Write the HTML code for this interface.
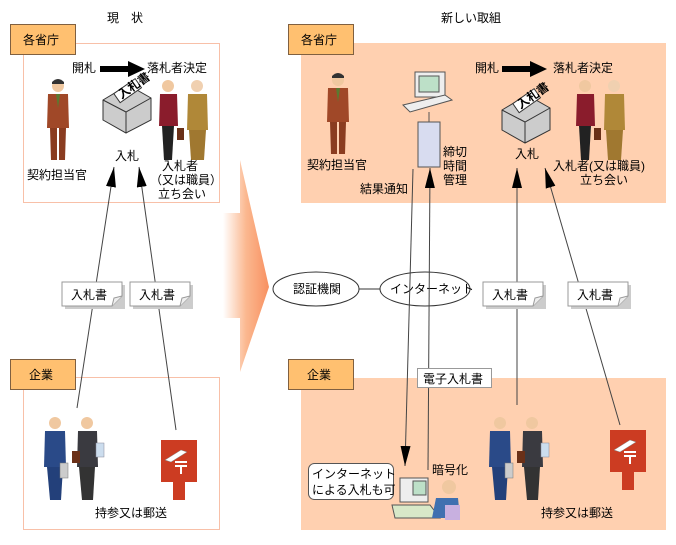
<!DOCTYPE html>
<html><head><meta charset="utf-8"><style>
body{margin:0;width:676px;height:540px;background:#fff;overflow:hidden}
svg text{font-family:"Liberation Sans","Noto Sans CJK JP",sans-serif;font-size:12px;fill:#000}
</style></head><body>
<svg width="676" height="540" viewBox="0 0 676 540" xmlns="http://www.w3.org/2000/svg">
<defs>
<linearGradient id="g" x1="0" x2="1" y1="0" y2="0"><stop offset="0" stop-color="#fff"/><stop offset="0.5" stop-color="#fbb890"/><stop offset="1" stop-color="#f89060"/></linearGradient>
<marker id="ah" viewBox="0 0 20 10" refX="20" refY="5" markerWidth="20" markerHeight="10" orient="auto" markerUnits="userSpaceOnUse"><path d="M0,0 L20,5 L0,10 Z" fill="#000"/></marker>
<g id="man"><circle cx="13" cy="8" r="6" fill="#f0c8a0"/><path d="M7,4 Q13,-2 19,4 L19,6 L7,6Z" fill="#333"/><path d="M3,16 L23,16 L24,50 L2,50Z" fill="#a04828"/><path d="M5,50 L12,50 L12,82 L6,82Z M14,50 L21,50 L20,82 L14,82Z" fill="#8a3c20"/><path d="M11,16 L15,16 L13,30Z" fill="#5a7a30"/></g>
<g id="pair"><circle cx="13" cy="8" r="6" fill="#f0c8a0"/><path d="M5,16 L22,16 L23,48 L4,48Z" fill="#8a1c2c"/><path d="M7,48 L19,48 L17,82 L9,82Z" fill="#222"/><circle cx="42" cy="8" r="6" fill="#f0d0b0"/><path d="M33,16 L52,16 L53,52 L32,52Z" fill="#b08838"/><path d="M34,52 L51,52 L49,82 L36,82Z" fill="#a07830"/><rect x="22" y="50" width="7" height="12" fill="#6a3018"/></g>
<g id="walk"><circle cx="13" cy="8" r="6" fill="#f0c8a0"/><path d="M3,16 L23,16 L24,52 L2,52Z" fill="#2a4a88"/><path d="M5,52 L21,52 L19,85 L8,85Z" fill="#23407a"/><rect x="18" y="48" width="8" height="15" fill="#ccc" stroke="#777" stroke-width=".5"/><circle cx="45" cy="8" r="6" fill="#f0c8a0"/><path d="M36,16 L55,16 L56,52 L35,52Z" fill="#3a3a40"/><path d="M37,52 L53,52 L51,85 L40,85Z" fill="#333"/><rect x="54" y="28" width="8" height="14" fill="#cde" stroke="#889" stroke-width=".5"/><rect x="30" y="36" width="8" height="12" fill="#6a3018"/></g>
<g id="post"><rect x="0" y="0" width="36" height="42" fill="#cc3c22"/><rect x="12" y="42" width="12" height="18" fill="#cc3c22"/><path d="M4,20 L20,10 L26,12 L10,22Z" fill="#fff" stroke="#888" stroke-width=".5"/><path d="M14,22 L26,22 M14,26 L26,26 M20,26 L20,34" stroke="#fff" stroke-width="2"/></g>
<g id="box"><path d="M0,15 L25,0 L48,13 L48,35 L23,48 L0,35Z" fill="#ccc" stroke="#333" stroke-width="1"/><path d="M0,15 L23,27 L48,13 M23,27 L23,48" fill="none" stroke="#333"/><g transform="translate(16,16) rotate(-35)"><rect x="0" y="-9" width="26" height="11" fill="#fff" stroke="#333"/><text x="3" y="0" font-size="8" font-weight="bold">入札書</text></g></g>
<g id="doc"><rect x="3" y="3" width="60" height="24" fill="#ccc"/><path d="M0,0 H60 V14 L50,24 H0Z" fill="#fff" stroke="#999"/><path d="M50,24 L52,16 L60,14" fill="#eee" stroke="#999"/><text x="9" y="17">入札書</text></g>
<g id="fatarrow"><path d="M0,5 H28 V0 L45,8 L28,16 V11 H0Z" fill="#000"/></g>
</defs>

<text x="107" y="22">現　状</text>
<text x="441" y="22">新しい取組</text>

<rect x="23.5" y="43.5" width="196" height="159" fill="#fff" stroke="#f8c0a8"/>
<rect x="23.5" y="377.5" width="196" height="152" fill="#fff" stroke="#f8c0a8"/>
<rect x="10.5" y="24.5" width="65" height="30" fill="#ffc070" stroke="#806040"/>
<text x="23" y="44" font-size="13">各省庁</text>
<rect x="10.5" y="359.5" width="65" height="30" fill="#ffc070" stroke="#806040"/>
<text x="29" y="379" font-size="13">企業</text>

<rect x="301" y="43" width="365" height="160" fill="#ffd0b0"/>
<rect x="301" y="378" width="365" height="152" fill="#ffd0b0"/>
<rect x="288.5" y="24.5" width="65" height="30" fill="#ffc070" stroke="#806040"/>
<text x="301" y="44" font-size="13">各省庁</text>
<rect x="288.5" y="359.5" width="65" height="30" fill="#ffc070" stroke="#806040"/>
<text x="307" y="379" font-size="13">企業</text>

<path d="M223,213 H240 V160 L269,287 L240,372 V318 H223Z" fill="url(#g)"/>

<text x="72" y="72">開札</text>
<use href="#fatarrow" x="100" y="61"/>
<text x="147" y="72">落札者決定</text>
<use href="#man" x="45" y="78"/>
<text x="27" y="179">契約担当官</text>
<use href="#box" x="103" y="85"/>
<text x="115" y="160">入札</text>
<use href="#pair" x="155" y="78"/>
<text x="162" y="170">入札者</text>
<text x="150" y="184">（又は職員）</text>
<text x="158" y="198">立ち会い</text>

<line x1="77" y1="408" x2="114" y2="167" stroke="#444" marker-end="url(#ah)"/>
<line x1="176" y1="430" x2="139" y2="167" stroke="#444" marker-end="url(#ah)"/>
<use href="#doc" x="62" y="282"/>
<use href="#doc" x="130" y="282"/>

<use href="#walk" x="42" y="415"/>
<use href="#post" x="161" y="440"/>
<text x="95" y="517">持参又は郵送</text>

<text x="475" y="72">開札</text>
<use href="#fatarrow" x="502" y="61"/>
<text x="553" y="72">落札者決定</text>
<use href="#man" x="325" y="72"/>
<text x="307" y="169">契約担当官</text>
<rect x="415" y="72" width="30" height="25" fill="#eee" stroke="#555"/>
<rect x="419" y="76" width="20" height="16" fill="#bde0c8" stroke="#555"/>
<path d="M403,105 L445,95 L452,100 L410,112Z" fill="#eee" stroke="#555"/>
<line x1="429" y1="112" x2="429" y2="122" stroke="#555"/>
<rect x="418" y="122" width="22" height="45" fill="#d8dcf0" stroke="#555"/>
<text x="443" y="156">締切</text>
<text x="443" y="170">時間</text>
<text x="443" y="184">管理</text>
<text x="360" y="193">結果通知</text>
<use href="#box" x="502" y="95"/>
<text x="515" y="158">入札</text>
<use href="#pair" x="572" y="78"/>
<text x="553" y="170">入札者(又は職員)</text>
<text x="580" y="184">立ち会い</text>

<ellipse cx="316" cy="289" rx="43" ry="17" fill="#fff" stroke="#333"/>
<text x="293" y="293">認証機関</text>
<line x1="359" y1="289" x2="380" y2="289" stroke="#333"/>
<ellipse cx="425" cy="289" rx="45" ry="17" fill="#fff" stroke="#333"/>
<text x="390" y="293" font-size="11">インターネット</text>

<line x1="413" y1="169" x2="405" y2="466" stroke="#444" marker-end="url(#ah)"/>
<line x1="428" y1="470" x2="430" y2="168" stroke="#444" marker-end="url(#ah)"/>
<rect x="417.5" y="368.5" width="74" height="19" fill="#fff" stroke="#999"/>
<text x="423" y="383">電子入札書</text>
<line x1="517" y1="405" x2="517" y2="168" stroke="#444" marker-end="url(#ah)"/>
<line x1="620" y1="425" x2="545" y2="168" stroke="#444" marker-end="url(#ah)"/>
<use href="#doc" x="483" y="282"/>
<use href="#doc" x="568" y="282"/>

<rect x="308.5" y="463.5" width="85" height="36" rx="6" fill="#fff" stroke="#555"/>
<text x="312" y="478">インターネット</text>
<text x="312" y="494">による入札も可</text>
<text x="432" y="474">暗号化</text>
<rect x="400" y="478" width="28" height="24" fill="#eee" stroke="#555"/>
<rect x="413" y="481" width="13" height="14" fill="#bde0c8" stroke="#555"/>
<path d="M392,505 L430,505 L440,518 L395,518Z" fill="#d8e8c8" stroke="#555"/>
<circle cx="449" cy="487" r="7" fill="#f0c8a0"/>
<path d="M436,498 L458,498 L460,518 L432,518Z" fill="#4070b0"/>
<rect x="445" y="505" width="15" height="15" fill="#c8b0e0"/>
<use href="#walk" x="487" y="415"/>
<use href="#post" x="610" y="430"/>
<text x="541" y="517">持参又は郵送</text>
</svg>
</body></html>
